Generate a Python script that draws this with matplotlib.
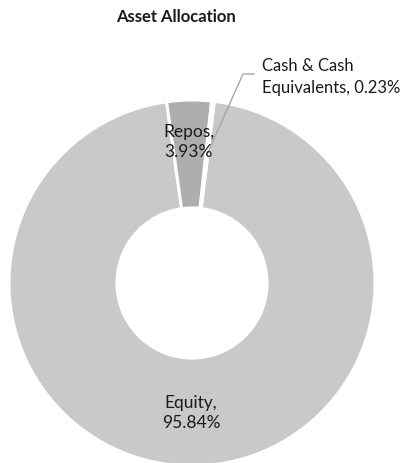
import numpy as np
import matplotlib
matplotlib.use("Agg")
import matplotlib.pyplot as plt

# データ
categories = ["Equity", "Repos", "Cash & Cash\nEquivalents"]
shares = [95.84, 3.93, 0.23]
colors = ["#c9c9c9", "#b0adad", "#c9c9c9"]

W, H, DPI = 406, 463, 100
CX, CY, R = 192, 283, 183   # 円の中心と半径 [px]

plt.rcParams["font.family"] = ["Lato", "DejaVu Sans"]

fig = plt.figure(figsize=(W / DPI, H / DPI), dpi=DPI)
ax = fig.add_axes([(CX - R) / W, (H - CY - R) / H, 2 * R / W, 2 * R / H])

wedges, _ = ax.pie(
    shares,
    colors=colors,
    startangle=83,
    counterclock=False,
    radius=1.0,
    wedgeprops=dict(width=0.59, edgecolor="white", linewidth=2.2),
)
ax.set_xlim(-1, 1)
ax.set_ylim(-1, 1)
ax.set_aspect("equal")
ax.set_axis_off()


def px2d(px, py):
    return (px - CX) / R, (CY - py) / R


labels = [f"{c}, {v:.2f}%" if "\n" in c else f"{c},\n{v:.2f}%"
          for c, v in zip(categories, shares)]

# Equity / Repos はリング内にラベル
for i, pos in [(0, (191, 413)), (1, (189, 142))]:
    x, y = px2d(*pos)
    ax.text(x, y, labels[i], ha="center", va="center", fontsize=12.5,
            color="#1a1a1a", linespacing=1.3, clip_on=False)

# Cash は外側ラベル + 引き出し線
lx, ly = px2d(262, 77)
ax.text(lx, ly, labels[2], ha="left", va="center", fontsize=12,
        color="#1a1a1a", linespacing=1.4, clip_on=False)
w = wedges[2]
mid = np.radians((w.theta1 + w.theta2) / 2)
r_mid = 1.0 - 0.59 / 2
x0, y0 = r_mid * np.cos(mid), r_mid * np.sin(mid)
x1, y1 = px2d(243, 74)
x2, y2 = px2d(254, 74)
ax.plot([x0, x1, x2], [y0, y1, y2], color="#a6a6a6", lw=1.0, clip_on=False)

fig.text(176 / W, 1 - 17 / H, "Asset Allocation", ha="center", va="center",
         fontsize=12, fontweight="bold", color="#1a1a1a")

fig.savefig("out.png", dpi=DPI, facecolor="white")
